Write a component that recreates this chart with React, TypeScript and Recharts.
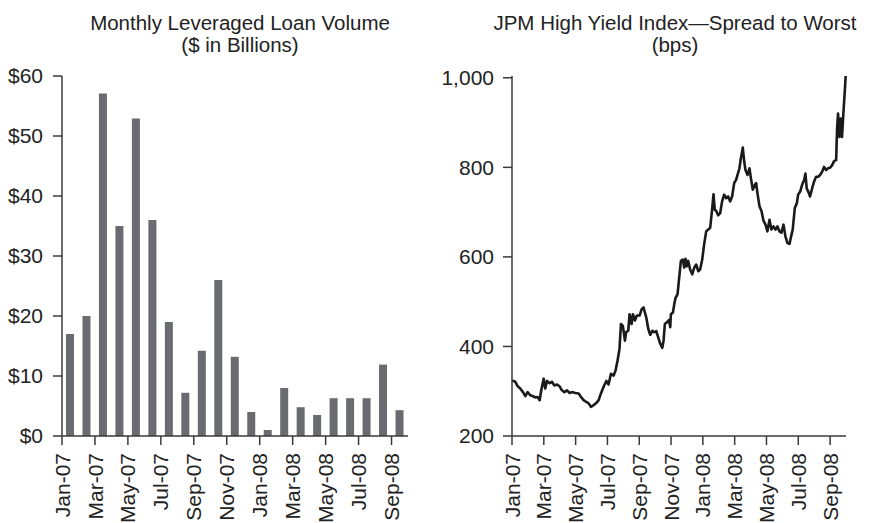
import { Bar, BarChart, Line, LineChart, XAxis, YAxis } from "recharts"

const months = [
  "Jan-07", "Feb-07", "Mar-07", "Apr-07", "May-07", "Jun-07", "Jul-07",
  "Aug-07", "Sep-07", "Oct-07", "Nov-07", "Dec-07", "Jan-08", "Feb-08",
  "Mar-08", "Apr-08", "May-08", "Jun-08", "Jul-08", "Aug-08", "Sep-08",
]

// $ billions per month
const loanVolume = [17, 20, 57.1, 35, 52.9, 36, 19, 7.2, 14.2, 26, 13.2, 4, 1, 8, 4.8, 3.5, 6.3, 6.3, 6.3, 11.9, 4.3]

const volumeTicks = [0, 10, 20, 30, 40, 50, 60]
const spreadTicks = [200, 400, 600, 800, 1000]
const monthTicks = [0, 2, 4, 6, 8, 10, 12, 14, 16, 18, 20]

// months elapsed since 1 Jan 2007
const spreadMonth = [
  0, 0.21, 0.36, 0.52, 0.69, 0.84, 0.98, 1.15, 1.32, 1.47, 1.61, 1.74, 1.84, 1.99,
  2.09, 2.2, 2.37, 2.51, 2.66, 2.83, 2.99, 3.14, 3.29, 3.46, 3.62, 3.77, 3.98, 4.19,
  4.34, 4.5, 4.67, 4.82, 4.96, 5.13, 5.28, 5.45, 5.59, 5.76, 5.93, 6.07, 6.22, 6.39,
  6.51, 6.64, 6.76, 6.85, 6.97, 7.1, 7.18, 7.31, 7.39, 7.52, 7.6, 7.73, 7.85, 8.02,
  8.15, 8.27, 8.44, 8.57, 8.69, 8.82, 8.94, 9.07, 9.19, 9.32, 9.45, 9.53, 9.61, 9.74,
  9.86, 9.95, 9.99, 10.12, 10.2, 10.28, 10.41, 10.49, 10.62, 10.74, 10.83, 10.91, 10.99,
  11.08, 11.2, 11.33, 11.46, 11.58, 11.71, 11.83, 11.96, 12.08, 12.21, 12.34, 12.46,
  12.59, 12.67, 12.75, 12.84, 12.96, 13.09, 13.21, 13.34, 13.47, 13.59, 13.72, 13.84,
  13.97, 14.09, 14.18, 14.3, 14.39, 14.51, 14.6, 14.68, 14.81, 14.93, 15.02, 15.14,
  15.27, 15.35, 15.43, 15.56, 15.69, 15.81, 15.94, 16.06, 16.19, 16.31, 16.44, 16.57,
  16.69, 16.82, 16.94, 17.07, 17.19, 17.32, 17.45, 17.53, 17.65, 17.78, 17.91, 17.99,
  18.12, 18.24, 18.37, 18.45, 18.53, 18.66, 18.74, 18.87, 18.99, 19.12, 19.25, 19.37,
  19.5, 19.62, 19.75, 19.87, 20, 20.13, 20.25, 20.38, 20.44, 20.5, 20.59, 20.67, 20.75,
  20.84, 20.92, 20.98,
]

// spread to worst, bps
const spreadBps = [
  324, 321, 311, 306, 298, 289, 298, 291, 289, 286, 287, 280, 302, 328,
  306, 323, 318, 321, 313, 315, 311, 302, 298, 302, 296, 298, 296, 295,
  287, 280, 276, 273, 265, 269, 273, 280, 295, 310, 323, 315, 339, 335,
  346, 369, 395, 450, 446, 413, 432, 435, 472, 450, 472, 458, 469, 469,
  483, 487, 465, 439, 426, 435, 432, 434, 421, 406, 397, 413, 450, 454,
  459, 443, 472, 476, 494, 508, 517, 546, 591, 594, 576, 596, 579,
  591, 572, 561, 576, 583, 568, 572, 594, 628, 657, 661, 665,
  709, 740, 705, 703, 693, 698, 724, 739, 731, 735, 724, 735,
  765, 772, 783, 798, 820, 844, 813, 794, 783, 798, 776, 750,
  761, 765, 743, 713, 702, 681, 672, 657, 683, 661, 668, 661,
  668, 657, 654, 672, 646, 631, 629, 643, 661, 709, 720, 739,
  746, 761, 772, 786, 753, 743, 735, 753, 768, 779, 779, 783,
  790, 801, 794, 798, 799, 805, 814, 816, 887, 920, 868, 909, 868,
  924, 968, 1004,
]

const volumeData = loanVolume.map((v, i) => ({ month: months[i], pos: i + 0.5, volume: v }))
const spreadData = spreadBps.map((v, i) => ({ m: spreadMonth[i], bps: v }))

const FONT = "'Liberation Sans', Arial, Helvetica, sans-serif"
const INK = "#222"
const AXIS = "#3a3a3a"

const tickStyle = { fontSize: 21, fill: INK, fontFamily: FONT }

function MonthTick(props: any) {
  const { x, y, payload } = props
  return (
    <g transform={`translate(${x},${y})`}>
      <text transform="rotate(-90)" textAnchor="end" dx={-6} dy="0.36em" style={tickStyle}>
        {months[payload.value]}
      </text>
    </g>
  )
}

const titleStyle: React.CSSProperties = {
  position: "absolute",
  top: 12,
  textAlign: "center",
  fontFamily: FONT,
  fontSize: 20.5,
  lineHeight: "22px",
  color: INK,
  whiteSpace: "nowrap",
}

export default function App() {
  return (
    <div style={{ position: "absolute", left: 0, top: 0, width: 869, height: 523, background: "#fff" }}>
      <div style={{ ...titleStyle, left: 40, width: 400 }}>
        Monthly Leveraged Loan Volume
        <br />
        ($ in Billions)
      </div>
      <div style={{ ...titleStyle, left: 475, width: 400 }}>
        JPM High Yield Index—Spread to Worst
        <br />
        (bps)
      </div>

      <div style={{ position: "absolute", left: 0, top: 0 }}>
        <BarChart width={430} height={523} data={volumeData} margin={{ top: 76, right: 22, bottom: 0, left: 0 }}>
          <XAxis
            dataKey="pos"
            type="number"
            domain={[0, 21]}
            ticks={monthTicks}
            interval={0}
            height={87}
            tickSize={9}
            tick={<MonthTick />}
            stroke={AXIS}
            strokeWidth={1.5}
          />
          <YAxis
            domain={[0, 60]}
            ticks={volumeTicks}
            width={62}
            tickSize={9}
            tickMargin={10}
            tickFormatter={(v) => `$${v}`}
            tick={tickStyle}
            stroke={AXIS}
            strokeWidth={1.5}
          />
          <Bar dataKey="volume" fill="#6a6b6f" barSize={8} isAnimationActive={false} />
        </BarChart>
      </div>

      <div style={{ position: "absolute", left: 430, top: 0 }}>
        <LineChart width={439} height={523} data={spreadData} margin={{ top: 76, right: 23, bottom: 0, left: 0 }}>
          <XAxis
            dataKey="m"
            type="number"
            domain={[0, 21]}
            ticks={monthTicks}
            interval={0}
            height={87}
            tickSize={9}
            tick={<MonthTick />}
            stroke={AXIS}
            strokeWidth={1.5}
          />
          <YAxis
            domain={[200, 1000]}
            ticks={spreadTicks}
            width={82}
            tickSize={9}
            tickMargin={9}
            tickFormatter={(v) => v.toLocaleString("en-US")}
            tick={tickStyle}
            stroke={AXIS}
            strokeWidth={1.5}
          />
          <Line
            type="linear"
            dataKey="bps"
            stroke="#1a1a1a"
            strokeWidth={2.6}
            strokeLinejoin="round"
            dot={false}
            isAnimationActive={false}
          />
        </LineChart>
      </div>
    </div>
  )
}
